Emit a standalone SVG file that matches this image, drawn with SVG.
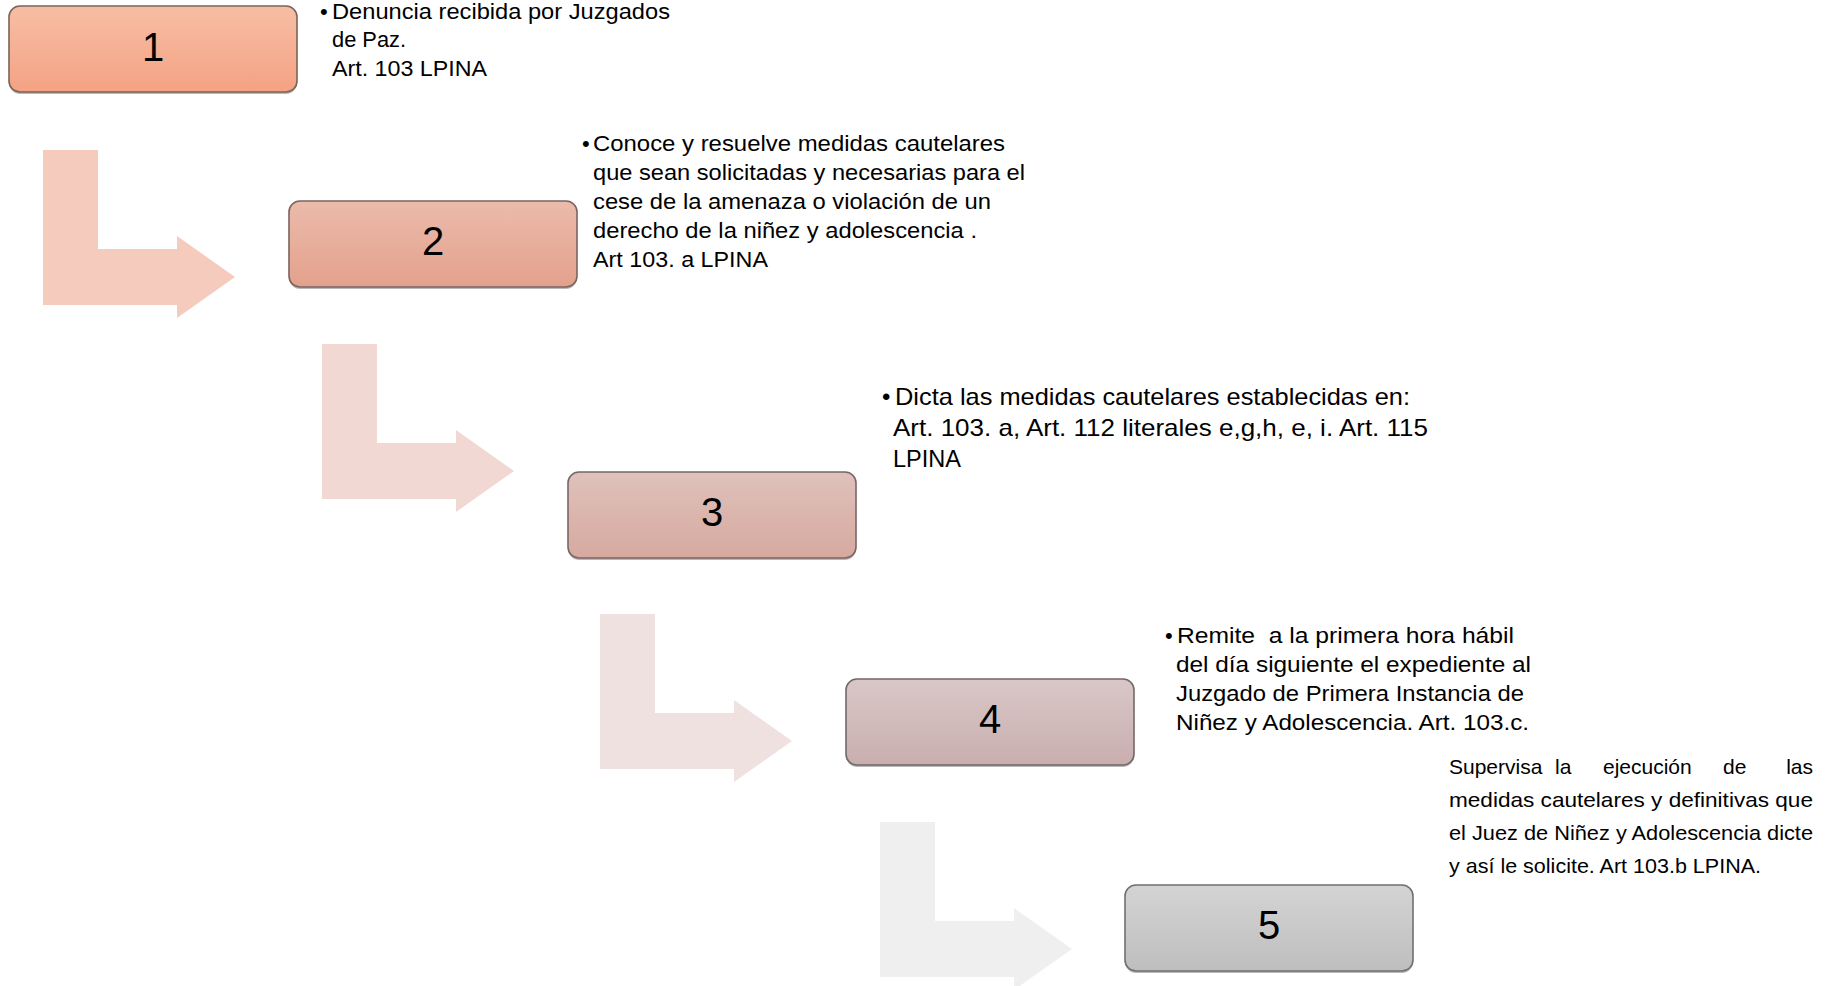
<svg xmlns="http://www.w3.org/2000/svg" xmlns:xlink="http://www.w3.org/1999/xlink" width="1835" height="986" viewBox="0 0 1835 986">
<defs>
<style>
.t{font-family:"Liberation Sans",Arial,sans-serif;fill:#000;}
.b{font-size:22px;}
.b3{font-size:24px;}
.s{font-size:21px;}
.num{font-family:"Liberation Sans",Arial,sans-serif;font-size:40px;fill:#000;text-anchor:middle;}
.box{stroke-width:1.6;}
.shadow{fill:#000;opacity:0.28;}
</style>
<path id="bent" d="M0,0 H55 V99 H134 V86 L192,127 L134,168 V155 H0 Z"/>
<linearGradient id="g1" x1="0" y1="0" x2="0" y2="1"><stop offset="0" stop-color="#F7BEA5"/><stop offset="1" stop-color="#F4A283"/></linearGradient>
<linearGradient id="g2" x1="0" y1="0" x2="0" y2="1"><stop offset="0" stop-color="#EBBBAB"/><stop offset="1" stop-color="#E3A18C"/></linearGradient>
<linearGradient id="g3" x1="0" y1="0" x2="0" y2="1"><stop offset="0" stop-color="#DFC1BB"/><stop offset="1" stop-color="#D6A99F"/></linearGradient>
<linearGradient id="g4" x1="0" y1="0" x2="0" y2="1"><stop offset="0" stop-color="#D9C7C7"/><stop offset="1" stop-color="#C9AEAE"/></linearGradient>
<linearGradient id="g5" x1="0" y1="0" x2="0" y2="1"><stop offset="0" stop-color="#D4D4D4"/><stop offset="1" stop-color="#BEBEBE"/></linearGradient>
</defs>
<rect width="1835" height="986" fill="#fff"/>

<g id="connectors">
<use xlink:href="#bent" href="#bent" transform="translate(43,150)" fill="#F5CBBD"/>
<use xlink:href="#bent" href="#bent" transform="translate(322,344)" fill="#F2D8D2"/>
<use xlink:href="#bent" href="#bent" transform="translate(600,614)" fill="#F0E1E1"/>
<use xlink:href="#bent" href="#bent" transform="translate(880,822)" fill="#EFEFEF"/>
</g>

<g id="node1">
<rect class="shadow" x="9" y="8" width="288" height="86" rx="11"/>
<rect class="box" x="9" y="6" width="288" height="86" rx="11" fill="url(#g1)" stroke="#7A6458"/>
<text class="num" x="153" y="61">1</text>
<text class="t b" x="320" y="19">•</text>
<text class="t b" x="332" y="19" textLength="338" lengthAdjust="spacingAndGlyphs">Denuncia recibida por Juzgados</text>
<text class="t b" x="332" y="47" textLength="74" lengthAdjust="spacingAndGlyphs">de Paz.</text>
<text class="t b" x="332" y="76" textLength="155" lengthAdjust="spacingAndGlyphs">Art. 103 LPINA</text>
</g>

<g id="node2">
<rect class="shadow" x="289" y="203" width="288" height="86" rx="11"/>
<rect class="box" x="289" y="201" width="288" height="86" rx="11" fill="url(#g2)" stroke="#7A6460"/>
<text class="num" x="433" y="255">2</text>
<text class="t b" x="582" y="151">•</text>
<text class="t b" x="593" y="151" textLength="412" lengthAdjust="spacingAndGlyphs">Conoce y resuelve medidas cautelares</text>
<text class="t b" x="593" y="180" textLength="432" lengthAdjust="spacingAndGlyphs">que sean solicitadas y necesarias para el</text>
<text class="t b" x="593" y="209" textLength="398" lengthAdjust="spacingAndGlyphs">cese de la amenaza o violación de un</text>
<text class="t b" x="593" y="238" textLength="384" lengthAdjust="spacingAndGlyphs">derecho de la niñez y adolescencia .</text>
<text class="t b" x="593" y="267" textLength="175" lengthAdjust="spacingAndGlyphs">Art 103. a LPINA</text>
</g>

<g id="node3">
<rect class="shadow" x="568" y="474" width="288" height="86" rx="11"/>
<rect class="box" x="568" y="472" width="288" height="86" rx="11" fill="url(#g3)" stroke="#7A6664"/>
<text class="num" x="712" y="526">3</text>
<text class="t b3" x="882" y="405">•</text>
<text class="t b3" x="895" y="405" textLength="515" lengthAdjust="spacingAndGlyphs">Dicta las medidas cautelares establecidas en:</text>
<text class="t b3" x="893" y="436" textLength="535" lengthAdjust="spacingAndGlyphs">Art. 103. a, Art. 112 literales e,g,h, e, i. Art. 115</text>
<text class="t b3" x="893" y="467" textLength="68" lengthAdjust="spacingAndGlyphs">LPINA</text>
</g>

<g id="node4">
<rect class="shadow" x="846" y="681" width="288" height="86" rx="11"/>
<rect class="box" x="846" y="679" width="288" height="86" rx="11" fill="url(#g4)" stroke="#736868"/>
<text class="num" x="990" y="733">4</text>
<text class="t b" x="1165" y="643">•</text>
<text class="t b" x="1177" y="643" textLength="337" lengthAdjust="spacingAndGlyphs" style="white-space:pre" xml:space="preserve">Remite  a la primera hora hábil</text>
<text class="t b" x="1176" y="672" textLength="355" lengthAdjust="spacingAndGlyphs">del día siguiente el expediente al</text>
<text class="t b" x="1176" y="701" textLength="348" lengthAdjust="spacingAndGlyphs">Juzgado de Primera Instancia de</text>
<text class="t b" x="1176" y="730" textLength="353" lengthAdjust="spacingAndGlyphs">Niñez y Adolescencia. Art. 103.c.</text>
</g>

<g id="node5">
<rect class="shadow" x="1125" y="887" width="288" height="86" rx="11"/>
<rect class="box" x="1125" y="885" width="288" height="86" rx="11" fill="url(#g5)" stroke="#707070"/>
<text class="num" x="1269" y="939">5</text>
<text class="t s" x="1449" y="774">Supervisa</text>
<text class="t s" x="1555" y="774">la</text>
<text class="t s" x="1603" y="774">ejecución</text>
<text class="t s" x="1723" y="774">de</text>
<text class="t s" x="1813" y="774" text-anchor="end">las</text>
<text class="t s" x="1449" y="807" textLength="364" lengthAdjust="spacingAndGlyphs">medidas cautelares y definitivas que</text>
<text class="t s" x="1449" y="840" textLength="364" lengthAdjust="spacingAndGlyphs">el Juez de Niñez y Adolescencia dicte</text>
<text class="t s" x="1449" y="873" textLength="312" lengthAdjust="spacingAndGlyphs">y así le solicite. Art 103.b LPINA.</text>
</g>
</svg>
